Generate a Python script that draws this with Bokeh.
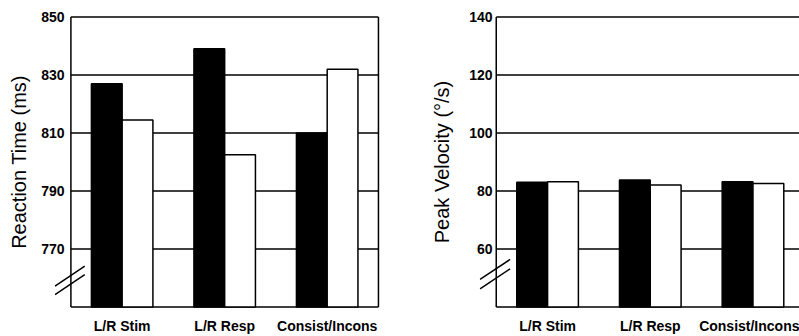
from bokeh.plotting import figure
from bokeh.layouts import row
from bokeh.models import Range1d, FixedTicker, ColumnDataSource
from bokeh.transform import dodge
from bokeh.embed import file_html
from bokeh.resources import INLINE

categories = ["L/R Stim", "L/R Resp", "Consist/Incons"]
rt_black = [827, 839, 810]
rt_white = [814.5, 802.5, 832]
pv_black = [83.0, 83.8, 83.2]
pv_white = [83.2, 82.1, 82.6]
rt_ticks = [770, 790, 810, 830, 850]
pv_ticks = [60, 80, 100, 120, 140]

FONT = "Liberation Sans"


def panel(black, white, ymin, ymax, ticks, ylabel, width, x_start, x_end, right_line,
          border_left, border_right, tick_standoff, label_standoff, breaks):
    idx = list(range(len(categories)))
    src = ColumnDataSource(dict(x=idx, black=black, white=white))
    pad = 0.005 * (ymax - ymin)
    p = figure(width=width, height=336, output_backend="svg", toolbar_location=None,
               x_range=Range1d(x_start, x_end), y_range=Range1d(ymin - pad, ymax + pad),
               min_border_left=border_left, min_border_right=border_right,
               min_border_top=15, min_border_bottom=27)
    p.outline_line_color = None
    p.grid.visible = False

    # horizontal rules (grid + top/bottom of frame) and vertical frame sides
    right = right_line if right_line is not None else x_end
    hy = [ymin] + ticks
    p.segment(x0=[-0.5] * len(hy), x1=[right] * len(hy), y0=hy, y1=hy,
              line_color="black", line_width=1.5)
    vx = [-0.5] + ([right_line] if right_line is not None else [])
    p.segment(x0=vx, x1=vx, y0=[ymin] * len(vx), y1=[ymax] * len(vx),
              line_color="black", line_width=1.5)

    p.vbar(x=dodge("x", -0.15, range=p.x_range), top="black", bottom=ymin, width=0.3,
           source=src, fill_color="black", line_color="black", line_width=1.5)
    p.vbar(x=dodge("x", 0.15, range=p.x_range), top="white", bottom=ymin, width=0.3,
           source=src, fill_color="white", line_color="black", line_width=1.5)

    # axis break marks
    span = ymax - ymin
    bx0 = [x_start + 0.005] * len(breaks)
    bx1 = [-0.365] * len(breaks)
    by0 = [ymin + b * span for b in breaks]
    by1 = [ymin + (b + 0.069) * span for b in breaks]
    p.segment(x0=bx0, x1=bx1, y0=by0, y1=by1, line_color="black", line_width=1.5)

    p.yaxis.ticker = FixedTicker(ticks=ticks)
    p.xaxis.ticker = FixedTicker(ticks=idx)
    p.xaxis.major_label_overrides = {i: c for i, c in enumerate(categories)}
    for ax in (p.xaxis, p.yaxis):
        ax.axis_line_color = None
        ax.major_tick_line_color = None
        ax.minor_tick_line_color = None
        ax.major_tick_in = 0
        ax.major_tick_out = 0
        ax.major_label_text_font = FONT
        ax.major_label_text_font_style = "bold"
        ax.major_label_text_color = "black"
    p.xaxis.major_label_text_font_size = "14px"
    p.yaxis.major_label_text_font_size = "14px"
    p.xaxis.major_label_standoff = 9
    p.yaxis.major_label_standoff = tick_standoff
    p.yaxis.axis_label = ylabel
    p.yaxis.axis_label_text_font = FONT
    p.yaxis.axis_label_text_font_size = "20px"
    p.yaxis.axis_label_text_font_style = "normal"
    p.yaxis.axis_label_text_color = "black"
    p.yaxis.axis_label_standoff = label_standoff
    return p


p1 = panel(rt_black, rt_white, 750, 850, rt_ticks, "Reaction Time (ms)",
           400, -0.66, 2.52, 2.5, 54, 20, -10, 8, [0.043, 0.072])
p2 = panel(pv_black, pv_white, 40, 140, pv_ticks, "Peak Velocity (°/s)",
           399, -0.663, 2.453, None, 79, 0, -13, 13, [0.063, 0.095])

p = row(p1, p2, spacing=0)
open("out.html", "w").write(file_html(p, INLINE))
